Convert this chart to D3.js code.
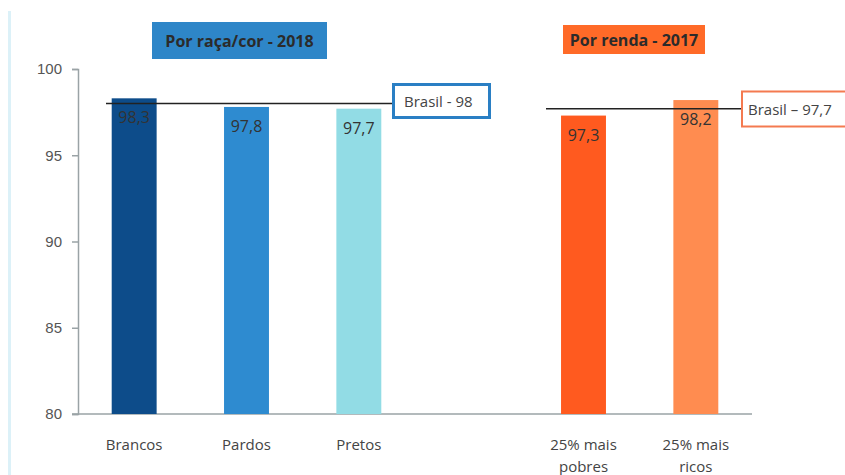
<!DOCTYPE html>
<html><head><meta charset="utf-8">
<script src="https://cdn.jsdelivr.net/npm/d3@7"></script>
<style>body{margin:0;background:#fff;} svg{display:block;font-family:"Open Sans",Lato,sans-serif;}</style>
</head><body>
<svg id="c" width="845" height="475"></svg>
<script>
const categories = ["Brancos","Pardos","Pretos","","25% mais pobres","25% mais ricos"];
const labelLines = [["Brancos"],["Pardos"],["Pretos"],[],["25% mais","pobres"],["25% mais","ricos"]];
const values = [98.3, 97.8, 97.7, null, 97.3, 98.2];
const valueLabels = ["98,3","97,8","97,7","","97,3","98,2"];
const barColors = ["#0d4c8a","#2e8bd0","#92dce5",null,"#ff5a1f","#ff8c50"];
const yTicks = [80,85,90,95,100];
const refRaca = 98, refRacaLabel = "Brasil - 98";
const refRenda = 97.7, refRendaLabel = "Brasil – 97,7";
const groupTitles = ["Por raça/cor - 2018","Por renda - 2017"];

const svg = d3.select("#c");
const x = d3.scaleBand().domain(d3.range(categories.length)).range([78, 752]).paddingInner(0.6).paddingOuter(0.3);
const y = d3.scaleLinear().domain([80,100]).range([414, 69]);

// left decorative line
svg.append("rect").attr("x",8).attr("y",11).attr("width",3).attr("height",464).attr("fill","#dcf1f8");

// y axis
const ya = svg.append("g").attr("transform","translate(78,0)")
  .call(d3.axisLeft(y).tickValues(yTicks).tickSize(6).tickPadding(10));
ya.select(".domain").attr("stroke","#9aa3a6").attr("stroke-width",1.5);
ya.selectAll(".tick line").attr("stroke","#9aa3a6").attr("stroke-width",1.5);
ya.selectAll(".tick text").attr("fill","#555").style("font-size","15px");

// x baseline
svg.append("line").attr("x1",72).attr("x2",752).attr("y1",y(80)).attr("y2",y(80))
  .attr("stroke","#9aa3a6").attr("stroke-width",1.5);

// bars
const idx = d3.range(categories.length).filter(i => values[i] !== null);
svg.selectAll("rect.bar").data(idx).join("rect").attr("class","bar")
  .attr("x", i => x(i)).attr("width", x.bandwidth())
  .attr("y", i => y(values[i])).attr("height", i => y(80) - y(values[i]))
  .attr("fill", i => barColors[i]);

// value labels
svg.selectAll("text.val").data(idx).join("text").attr("class","val")
  .attr("x", i => x(i) + x.bandwidth()/2).attr("y", i => y(values[i]) + 25)
  .attr("text-anchor","middle").attr("fill","#333").style("font-size","16px")
  .text(i => valueLabels[i]);

// x labels
idx.forEach(i => {
  const t = svg.append("text").attr("x", x(i)+x.bandwidth()/2).attr("y", 450)
    .attr("text-anchor","middle").attr("fill","#444").style("font-size","15px");
  labelLines[i].forEach((l,k) => t.append("tspan").attr("x", x(i)+x.bandwidth()/2).attr("dy", k===0?0:22).text(l));
});

// reference lines
svg.append("line").attr("x1",106).attr("x2",393).attr("y1",y(refRaca)).attr("y2",y(refRaca)).attr("stroke","#222").attr("stroke-width",1.5);
svg.append("rect").attr("x",393.5).attr("y",84.5).attr("width",96).attr("height",33).attr("fill","#fff").attr("stroke","#2a7fc4").attr("stroke-width",3);
svg.append("text").attr("x",404).attr("y",107).attr("fill","#444").style("font-size","15px").text(refRacaLabel);

svg.append("line").attr("x1",546).attr("x2",742).attr("y1",y(refRenda)).attr("y2",y(refRenda)).attr("stroke","#222").attr("stroke-width",1.5);
svg.append("rect").attr("x",742).attr("y",91.5).attr("width",110).attr("height",35).attr("fill","#fff").attr("stroke","#f47a50").attr("stroke-width",2);
svg.append("text").attr("x",748).attr("y",115).attr("fill","#444").style("font-size","15px").text(refRendaLabel);

// group title boxes
svg.append("rect").attr("x",152).attr("y",22).attr("width",175).attr("height",37).attr("fill","#2e86c8");
svg.append("text").attr("x",239.5).attr("y",47).attr("text-anchor","middle").attr("fill","#2b2b2b").style("font-size","16px").style("font-weight","bold").text(groupTitles[0]);
svg.append("rect").attr("x",563).attr("y",25).attr("width",142).attr("height",29).attr("fill","#ff6a28");
svg.append("text").attr("x",634).attr("y",45.5).attr("text-anchor","middle").attr("fill","#2b2b2b").style("font-size","16px").style("font-weight","bold").text(groupTitles[1]);
</script>
</body></html>
